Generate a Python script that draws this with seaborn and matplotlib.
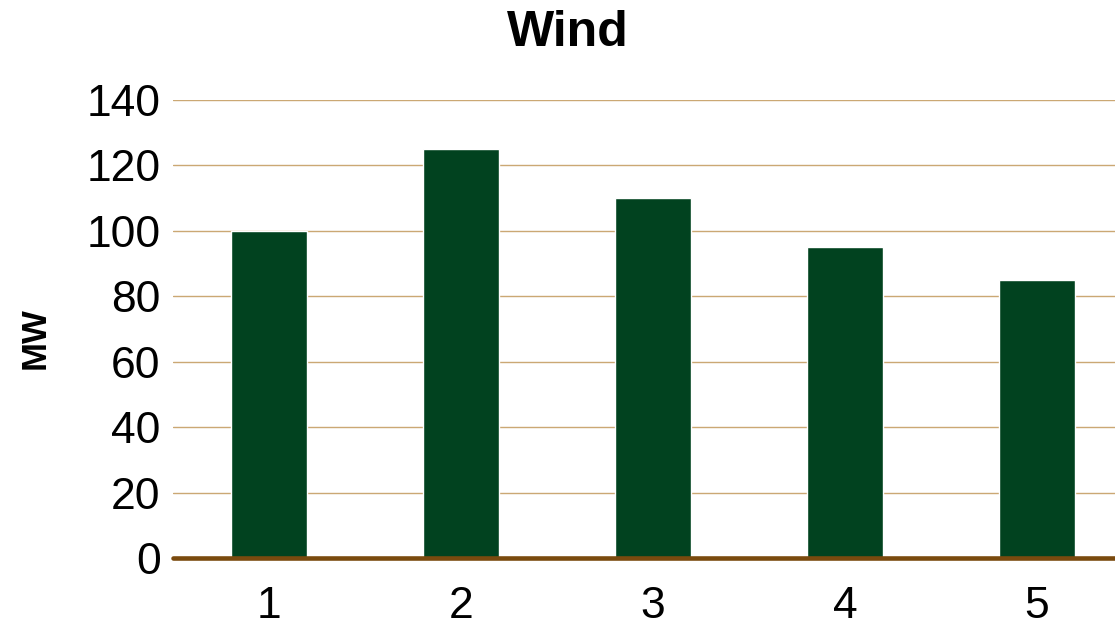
import matplotlib
matplotlib.use("Agg")
import matplotlib.pyplot as plt
import seaborn as sns
import pandas as pd

categories = ["1", "2", "3", "4", "5"]
values = [100, 125, 110, 95, 85]
yticks = [0, 20, 40, 60, 80, 100, 120, 140]

sns.set_style("white")
plt.rcParams["font.family"] = ["Liberation Sans", "DejaVu Sans"]

df = pd.DataFrame({"cat": categories, "MW": values})

fig = plt.figure(figsize=(11.15, 6.29), dpi=100)
ax = fig.add_axes([173 / 1115, 1 - 558 / 629, 1 - 173 / 1115, (558 - 100) / 629])

sns.barplot(data=df, x="cat", y="MW", color="#01421F", width=0.4,
            saturation=1, ax=ax, zorder=3)

ax.set_ylim(0, 140)
ax.set_xlim(-0.5, 4.5 - 18 / 192)
ax.set_yticks(yticks)
ax.set_yticklabels([str(t) for t in yticks])
for y in yticks[1:]:
    ax.axhline(y, color="#CBA874", lw=1.0, zorder=1)
ax.axhline(0, color="#7A4A0E", lw=3.3, zorder=4, clip_on=False)

for s in ax.spines.values():
    s.set_visible(False)
ax.tick_params(axis="both", length=0, labelsize=32, labelcolor="black")
ax.tick_params(axis="y", pad=9)
ax.tick_params(axis="x", pad=20)

ax.set_xlabel("")
ax.set_ylabel("")
fig.text(35 / 1115, 1 - 338 / 629, "MW", rotation=90, ha="center", va="center",
         fontsize=25, fontweight="bold", color="black")
fig.text(568 / 1115, 1 - 33 / 629, "Wind", ha="center", va="center",
         fontsize=36, fontweight="bold", color="black")

fig.savefig("out.png", dpi=100)
